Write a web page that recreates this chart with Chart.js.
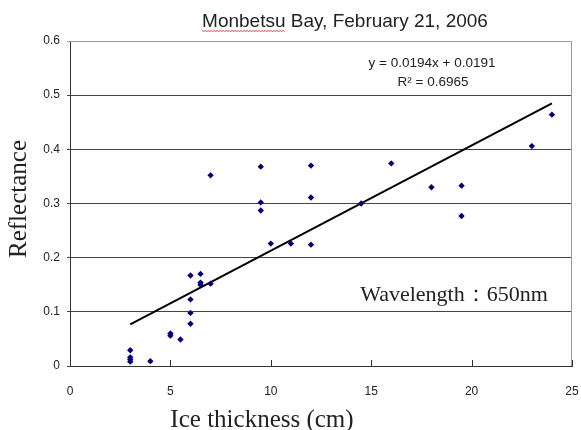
<!DOCTYPE html>
<html>
<head>
<meta charset="utf-8">
<script src="https://cdn.jsdelivr.net/npm/chart.js@4.4.1/dist/chart.umd.min.js"></script>
<style>
  html, body { margin: 0; padding: 0; background: #fff; }
</style>
</head>
<body>
<canvas id="chart" width="581" height="430"></canvas>
<script>
// ice thickness (cm) and reflectance
const thickness = [3, 3, 3, 3, 4, 5, 5, 5.5, 6, 6, 6, 6, 6.5, 6.5, 6.5, 7, 7,
  9.5, 9.5, 9.5, 10, 11, 12, 12, 12, 14.5, 16, 18, 19.5, 19.5, 23, 24];
const reflectance = [0.029, 0.016, 0.012, 0.008, 0.009, 0.060, 0.056, 0.049,
  0.078, 0.098, 0.123, 0.167, 0.170, 0.154, 0.150, 0.152, 0.352,
  0.368, 0.302, 0.287, 0.226, 0.226, 0.370, 0.311, 0.224, 0.300, 0.374,
  0.330, 0.333, 0.277, 0.406, 0.464];

// linear trend line end points
const trendX = [3, 24];
const trendY = [0.077, 0.485];

const titleText = "Monbetsu Bay, February 21, 2006";
const equationText = ["y = 0.0194x + 0.0191", "R\u00b2 = 0.6965"];
const noteText = "Wavelength\uff1a650nm";
const xTitle = "Ice thickness (cm)";
const yTitle = "Reflectance";

const points = thickness.map((x, i) => ({ x: x, y: reflectance[i] }));
const trend = trendX.map((x, i) => ({ x: x, y: trendY[i] }));

const textPlugin = {
  id: "textPlugin",
  afterDraw(chart) {
    const ctx = chart.ctx;
    const area = chart.chartArea;
    const xs = chart.scales.x;
    ctx.save();

    // light frame top / right
    ctx.strokeStyle = "#9a9a9a";
    ctx.lineWidth = 1;
    ctx.beginPath();
    ctx.moveTo(area.left, area.top + 0.5);
    ctx.lineTo(area.right - 0.5, area.top + 0.5);
    ctx.lineTo(area.right - 0.5, area.bottom);
    ctx.stroke();

    // inward tick marks on x axis
    ctx.strokeStyle = "#333";
    xs.ticks.forEach(t => {
      const px = Math.round(xs.getPixelForValue(t.value)) + 0.5;
      ctx.beginPath();
      ctx.moveTo(px, area.bottom);
      ctx.lineTo(px, area.bottom - 6);
      ctx.stroke();
    });

    // title
    ctx.fillStyle = "#222";
    ctx.font = "19px 'Liberation Sans', Arial, sans-serif";
    ctx.textAlign = "center";
    ctx.textBaseline = "alphabetic";
    ctx.fillText(titleText, 345, 27);

    // spell-check squiggle under first word
    const w0 = ctx.measureText(titleText).width;
    const wordW = ctx.measureText("Monbetsu").width;
    const sx = 345 - w0 / 2;
    ctx.strokeStyle = "#e04040";
    ctx.lineWidth = 1;
    ctx.beginPath();
    for (let x = 0; x <= wordW; x += 1.5) {
      const y = 30.5 + ((Math.round(x / 1.5) % 2) ? 1 : 0);
      if (x === 0) ctx.moveTo(sx + x, y); else ctx.lineTo(sx + x, y);
    }
    ctx.stroke();

    // regression equation
    ctx.fillStyle = "#222";
    ctx.font = "13.5px 'Liberation Sans', Arial, sans-serif";
    ctx.textBaseline = "middle";
    ctx.fillText(equationText[0], 432, 63);
    ctx.fillText(equationText[1], 433, 82);

    // wavelength note
    ctx.font = "22px 'Liberation Serif', 'Times New Roman', serif";
    ctx.fillText(noteText, 454, 295);

    // axis titles
    ctx.font = "25px 'Liberation Serif', 'Times New Roman', serif";
    ctx.textBaseline = "alphabetic";
    ctx.fillText(xTitle, 262, 427);
    ctx.translate(26, 199);
    ctx.rotate(-Math.PI / 2);
    ctx.fillText(yTitle, 0, 0);
    ctx.restore();
  }
};

const config = {
  type: "scatter",
  data: {
    datasets: [
      {
        label: "Reflectance",
        data: points,
        pointStyle: "rectRot",
        pointRadius: 3.2,
        backgroundColor: "#00007a",
        borderColor: "#00007a",
        borderWidth: 0,
      },
      {
        label: "Trend",
        data: trend,
        type: "line",
        showLine: true,
        borderColor: "#000",
        borderWidth: 2,
        pointRadius: 0,
        fill: false,
      },
    ],
  },
  options: {
    responsive: false,
    animation: false,
    layout: { padding: { top: 41, right: 9, left: 0, bottom: 0 } },
    plugins: {
      legend: { display: false },
      tooltip: { enabled: false },
      title: { display: false },
    },
    scales: {
      x: {
        type: "linear",
        min: 0,
        max: 25,
        ticks: {
          stepSize: 5,
          padding: 2,
          color: "#222",
          font: { family: "'Liberation Sans', Arial, sans-serif", size: 12 },
        },
        // invisible tick marks only push the labels down
        grid: { drawOnChartArea: false, drawTicks: true, tickLength: 16, color: "rgba(0,0,0,0)" },
        border: { color: "#333", width: 1 },
        afterFit(scale) { scale.height = 64; },
      },
      y: {
        min: 0,
        max: 0.6,
        ticks: {
          stepSize: 0.1,
          padding: 7,
          color: "#222",
          font: { family: "'Liberation Sans', Arial, sans-serif", size: 12 },
          callback: v => String(+v.toFixed(1)),
        },
        grid: {
          color: c => (c.tick && c.tick.value > 0.55 ? "#9a9a9a" : "#444"),
          tickLength: 3,
        },
        border: { color: "#333", width: 1 },
        afterFit(scale) { scale.width = 70; },
      },
    },
  },
  plugins: [textPlugin],
};

const canvas = document.getElementById("chart");
if (canvas) {
  new Chart(canvas.getContext("2d"), config);
} else {
  console.error("canvas not found");
}
</script>
</body>
</html>
